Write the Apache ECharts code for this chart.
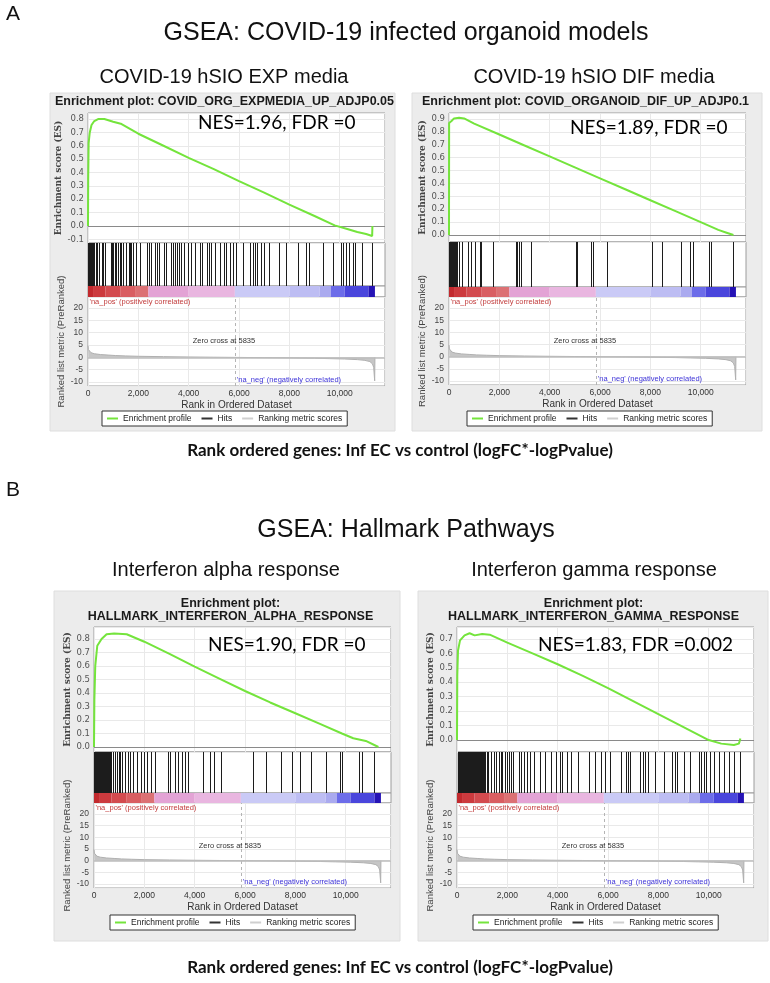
<!DOCTYPE html>
<html>
<head>
<meta charset="utf-8">
<script src="https://cdn.jsdelivr.net/npm/echarts@6/dist/echarts.min.js"></script>
<style>
  html, body { margin: 0; padding: 0; background: #fff; }
  #chart { width: 770px; height: 983px; }
</style>
</head>
<body>
<div id="chart"></div>
<script>
// ---- data ----
const rankMax = 11800;
const zeroCross = 5835;

// running enrichment score, [rank, ES]
const esExpMedia = [[0,0],[8,0.35],[25,0.62],[70,0.70],[140,0.755],[250,0.785],[400,0.80],[650,0.80],[1000,0.78],[1300,0.765],[2000,0.69],[3000,0.60],[4000,0.51],[5000,0.425],[6000,0.335],[7000,0.25],[8000,0.16],[9000,0.075],[9800,0.005],[10300,-0.022],[10700,-0.045],[11050,-0.06],[11290,-0.075],[11300,0.0]];
const esDifMedia = [[0,0],[5,0.87],[100,0.885],[200,0.905],[400,0.91],[600,0.905],[1000,0.865],[2000,0.78],[3000,0.695],[4000,0.61],[5000,0.525],[6000,0.44],[7000,0.355],[8000,0.27],[9000,0.185],[10000,0.10],[10700,0.04],[11000,0.02],[11300,0.0]];
const esAlpha = [[0,0],[15,0.35],[50,0.6],[130,0.75],[300,0.80],[500,0.835],[800,0.84],[1300,0.835],[2000,0.78],[3000,0.69],[4000,0.595],[5000,0.505],[6000,0.415],[7000,0.33],[8000,0.25],[9000,0.17],[9850,0.10],[10300,0.065],[10800,0.045],[11300,0.0]];
const esGamma = [[0,0],[12,0.45],[40,0.62],[120,0.69],[300,0.725],[500,0.74],[700,0.725],[1000,0.735],[1300,0.73],[2000,0.675],[3000,0.60],[4000,0.525],[5000,0.445],[6000,0.36],[7000,0.27],[8000,0.18],[9000,0.09],[10000,0.0],[10500,-0.025],[11000,-0.035],[11200,-0.025],[11260,0.01]];

// gene set hits (rank positions)
const hitsExpMedia = [15,45,80,115,150,185,215,255,300,375,425,545,610,670,905,960,1005,1070,1130,1190,1260,1330,1400,1505,1610,1670,1710,1795,1925,2060,2360,2430,2520,2680,2760,2840,3010,3090,3285,3365,3445,3525,3615,3710,3800,3975,4105,4240,4460,4540,4725,4805,4895,5030,5225,5385,5465,5625,5780,5885,6150,6455,6545,6640,6730,6875,7010,7205,7600,7865,8330,8660,8790,9320,9715,10070,10150,10245,10375,10535,10615,10905,11300];
const hitsDifMedia = [15,45,75,105,135,165,200,230,265,300,385,515,755,885,1045,1215,1285,1760,2645,2710,2780,2845,3240,5040,5095,5640,5715,6270,8055,8450,9205,9565,9685,10315,10400,11290];
const hitsAlpha = [15,40,65,90,115,140,165,190,215,240,270,300,330,360,390,420,450,480,510,540,570,600,630,660,740,830,895,975,1030,1095,1225,1355,1425,1555,1715,1885,1975,2110,2280,2410,2940,3030,3205,3335,3480,3600,3730,4350,4615,4785,5050,6300,6825,7420,7880,8170,8605,9200,9765,9860,10520,10650,11110];
const hitsGamma = [20,45,70,95,120,150,180,210,240,270,300,335,370,405,440,475,510,545,580,620,660,700,740,780,820,860,900,940,985,1030,1080,1130,1180,1215,1346,1451,1542,1673,1738,1804,1895,2000,2065,2157,2235,2457,2549,2653,2784,2915,3045,3281,3503,3725,3934,4091,4157,4353,4510,4549,4823,5255,5490,5725,5882,6078,6510,6706,6784,6863,7255,7373,7451,7569,7882,8235,8549,8667,8745,9020,9255,9608,9686,9804,9882,10039,10196,10400,10600,10800,11000,11250];

// ranked list metric (same pre-ranked list in every panel)
const rankedMetric = [[0,4.8],[15,3.2],[50,2.4],[120,1.9],[250,1.5],[500,1.15],[800,0.95],[1100,0.75],[1500,0.6],[2000,0.45],[3000,0.3],[4000,0.18],[5000,0.08],[5835,0],[7000,-0.1],[8000,-0.2],[9000,-0.35],[9600,-0.5],[10200,-0.65],[10700,-0.9],[11000,-1.2],[11200,-1.7],[11300,-2.6],[11350,-4],[11390,-9.5],[11400,0]];

// heat bar under the hits: [from rank, to rank, metric level]
const colorBands = [[0,200,6],[200,700,5],[700,1300,4],[1300,1900,3],[1900,2400,2],[2400,4000,1],[4000,5835,0.5],[5835,8000,-0.5],[8000,9200,-1],[9200,9650,-2],[9650,10200,-3],[10200,11150,-4],[11150,11400,-5]];

const nesLabels = ['NES=1.96, FDR =0', 'NES=1.89, FDR =0', 'NES=1.90, FDR =0', 'NES=1.83, FDR =0.002'];
const plotTitles = [
  ['Enrichment plot: COVID_ORG_EXPMEDIA_UP_ADJP0.05'],
  ['Enrichment plot: COVID_ORGANOID_DIF_UP_ADJP0.1'],
  ['Enrichment plot:', 'HALLMARK_INTERFERON_ALPHA_RESPONSE'],
  ['Enrichment plot:', 'HALLMARK_INTERFERON_GAMMA_RESPONSE']
];

// ---- layout ----
const bandPalette = {
  '6': '#c22a2e', '5': '#cc3a3e', '4': '#d34b4f', '3': '#d95e62', '2': '#dc7174',
  '1': '#e3a3d5', '0.5': '#e9b6e0',
  '-0.5': '#cacaf6', '-1': '#bdbdf3', '-2': '#aaaaef', '-3': '#6c6ce9', '-4': '#4a46dc', '-5': '#2513b5'
};

const panels = [
  { es: esExpMedia, hits: hitsExpMedia, box: [50, 93, 345, 338], left: 88, esTop: 113, esH: 130, hitsH: 43, barH: 11, rankH: 89,
    esRange: [-0.127, 0.845], rankRange: [-11.6, 24.5], titleY: 102, nesAt: [198, 123], legendAt: [102, 411], esGap: 16, rankGap: 18 },
  { es: esDifMedia, hits: hitsDifMedia, box: [412, 93, 350, 338], left: 449, esTop: 113, esH: 129, hitsH: 45, barH: 10, rankH: 88,
    esRange: [-0.054, 0.947], rankRange: [-11.6, 24.5], titleY: 102, nesAt: [570, 128], legendAt: [467, 411], esGap: 20, rankGap: 18 },
  { es: esAlpha, hits: hitsAlpha, box: [54, 591, 346, 350], left: 94, esTop: 627, esH: 125, hitsH: 41, barH: 10, rankH: 85,
    esRange: [-0.037, 0.889], rankRange: [-11.7, 24.7], titleY: 604, nesAt: [208, 645], legendAt: [110, 915], esGap: 20, rankGap: 17 },
  { es: esGamma, hits: hitsGamma, box: [418, 591, 350, 350], left: 457, esTop: 627, esH: 125, hitsH: 41, barH: 10, rankH: 85,
    esRange: [-0.083, 0.783], rankRange: [-11.7, 24.7], titleY: 604, nesAt: [538, 645], legendAt: [473, 915], esGap: 20, rankGap: 18 }
];
const plotW = 297;

function commas(v) { return String(v).replace(/\B(?=(\d{3})+(?!\d))/g, ','); }

const grids = [], xAxes = [], yAxes = [], series = [], legends = [];
const gridBase = { show: true, backgroundColor: '#fff', borderColor: '#9c9c9c', borderWidth: 1, outerBoundsMode: 'none' };

panels.forEach((p, i) => {
  const g = i * 4;
  const hitsTop = p.esTop + p.esH, barTop = hitsTop + p.hitsH, rankTop = barTop + p.barH;
  grids.push(Object.assign({ left: p.left, top: p.esTop, width: plotW, height: p.esH }, gridBase));
  grids.push(Object.assign({ left: p.left, top: hitsTop, width: plotW, height: p.hitsH }, gridBase));
  grids.push(Object.assign({ left: p.left, top: barTop, width: plotW, height: p.barH }, gridBase));
  grids.push(Object.assign({ left: p.left, top: rankTop, width: plotW, height: p.rankH }, gridBase));

  for (let k = 0; k < 4; k++) {
    xAxes.push({
      type: 'value', gridIndex: g + k, min: 0, max: rankMax, interval: 2000,
      axisLine: { show: false }, axisTick: { show: false },
      axisLabel: k === 3 ? {
        show: true, fontSize: 8.5, color: '#333', margin: 3,
        formatter: v => (v % 2000 === 0 ? commas(v) : '')
      } : { show: false },
      splitLine: { show: k === 0 || k === 3, lineStyle: { color: '#e9e9e9', width: 1 } },
      name: k === 3 ? 'Rank in Ordered Dataset' : '',
      nameLocation: 'middle', nameGap: 14,
      nameTextStyle: { fontSize: 10, color: '#333', fontFamily: 'Liberation Sans' }
    });
  }
  yAxes.push({
    type: 'value', gridIndex: g, min: p.esRange[0], max: p.esRange[1], splitNumber: 10,
    axisLine: { show: false }, axisTick: { show: false },
    axisLabel: {
      fontSize: 8.5, color: '#555', margin: 4, fontFamily: 'DejaVu Sans',
      formatter: v => (Math.abs(v * 10 - Math.round(v * 10)) < 1e-6 ? (Math.abs(v) < 1e-9 ? '0.0' : v.toFixed(1)) : '')
    },
    splitLine: { lineStyle: { color: '#e9e9e9' } },
    name: 'Enrichment score (ES)', nameLocation: 'middle', nameGap: p.esGap,
    nameTextStyle: { fontFamily: 'DejaVu Serif', fontWeight: 'bold', fontSize: 9, color: '#444' }
  });
  yAxes.push({ type: 'value', gridIndex: g + 1, min: 0, max: 1, show: false });
  yAxes.push({ type: 'value', gridIndex: g + 2, min: 0, max: 1, show: false });
  yAxes.push({
    type: 'value', gridIndex: g + 3, min: p.rankRange[0], max: p.rankRange[1], splitNumber: 7,
    axisLine: { show: false }, axisTick: { show: false },
    axisLabel: {
      fontSize: 8.5, color: '#444', margin: 5,
      formatter: v => (Math.abs(v - Math.round(v)) < 1e-6 && Math.round(v) % 5 === 0 ? String(Math.round(v)) : '')
    },
    splitLine: { lineStyle: { color: '#e9e9e9' } },
    name: 'Ranked list metric (PreRanked)', nameLocation: 'middle', nameGap: p.rankGap,
    nameTextStyle: { fontSize: 9.5, color: '#444', fontFamily: 'Liberation Sans' }
  });

  series.push({
    type: 'line', name: 'Enrichment profile', xAxisIndex: g, yAxisIndex: g,
    data: p.es, symbol: 'none', clip: false, z: 5,
    lineStyle: { color: '#74e43c', width: 2 },
    markLine: {
      silent: true, symbol: 'none', label: { show: false },
      lineStyle: { color: '#8a8a8a', type: 'solid', width: 1 },
      data: [{ yAxis: 0 }]
    }
  });
  series.push({
    type: 'custom', name: 'Hits', xAxisIndex: g + 1, yAxisIndex: g + 1, silent: true,
    itemStyle: { color: '#222' },
    data: p.hits.map(r => [r, 0.5]),
    renderItem: (params, api) => {
      const cs = params.coordSys;
      const x = Math.round(api.coord([api.value(0), 0.5])[0]) + 0.5;
      return { type: 'line', shape: { x1: x, y1: cs.y, x2: x, y2: cs.y + cs.height },
               style: { stroke: '#1c1c1c', lineWidth: 1 } };
    }
  });
  series.push({
    type: 'custom', name: 'band', xAxisIndex: g + 2, yAxisIndex: g + 2, silent: true,
    encode: { x: [0, 1] },
    data: colorBands,
    renderItem: (params, api) => {
      const a = api.coord([api.value(0), 0]);
      const b = api.coord([api.value(1), 1]);
      return { type: 'rect', shape: { x: a[0], y: b[1], width: b[0] - a[0], height: a[1] - b[1] },
               style: { fill: bandPalette[String(api.value(2))] } };
    }
  });
  series.push({
    type: 'line', name: 'Ranking metric scores', xAxisIndex: g + 3, yAxisIndex: g + 3,
    data: rankedMetric, symbol: 'none',
    lineStyle: { color: '#b0b0b0', width: 1 },
    areaStyle: { color: '#c6c6c6', opacity: 1 },
    markLine: {
      silent: true, symbol: 'none', label: { show: false },
      data: [
        { xAxis: zeroCross, lineStyle: { type: [3, 3], color: '#b4b4b4', width: 1 } },
        { yAxis: 0, lineStyle: { type: 'solid', color: '#bcbcbc', width: 1.5 } }
      ]
    }
  });

  legends.push({
    left: p.legendAt[0], top: p.legendAt[1], orient: 'horizontal',
    backgroundColor: '#fff', borderColor: '#333', borderWidth: 1, borderRadius: 0,
    padding: [3, 5], itemGap: 10, itemWidth: 11, itemHeight: 2, icon: 'rect',
    selectedMode: false,
    textStyle: { fontSize: 8.5, color: '#222', fontFamily: 'Liberation Sans' },
    data: [
      { name: 'Enrichment profile', itemStyle: { color: '#74e43c' } },
      { name: 'Hits', itemStyle: { color: '#333' } },
      { name: 'Ranking metric scores', itemStyle: { color: '#cfcfcf' } }
    ]
  });
});

const chart = echarts.init(document.getElementById('chart'));
chart.setOption({
  animation: false,
  backgroundColor: '#fff',
  textStyle: { fontFamily: 'Liberation Sans' },
  grid: grids, xAxis: xAxes, yAxis: yAxes, series: series, legend: legends
});

// ---- text and panel backgrounds ----
function txt(x, y, text, font, extra) {
  return Object.assign({ type: 'text', x: x, y: y, z: 100,
    style: Object.assign({ text: text, font: font, fill: '#111', textAlign: 'center', textVerticalAlign: 'middle' }, extra || {}) });
}

const els = [];
panels.forEach((p, i) => {
  const b = p.box;
  els.push({ type: 'rect', z: -100, shape: { x: b[0], y: b[1], width: b[2], height: b[3] },
             style: { fill: '#ececec', stroke: '#dedede', lineWidth: 1 } });
  const cx = p.left + plotW / 2 - 12;
  plotTitles[i].forEach((t, j) => {
    els.push(txt(cx, p.titleY + j * 13, t, 'bold 12.5px "Liberation Sans"', { fill: '#1a1a1a' }));
  });
  els.push(txt(p.nesAt[0], p.nesAt[1], nesLabels[i], '19px Lato', { textAlign: 'left', fill: '#000' }));

  const gRank = i * 4 + 3;
  const zc = chart.convertToPixel({ gridIndex: gRank }, [5400, 6.5]);
  els.push(txt(zc[0], zc[1], 'Zero cross at ' + zeroCross, '7.5px "Liberation Sans"', { fill: '#333' }));
  const pos = chart.convertToPixel({ gridIndex: gRank }, [60, p.rankRange[1]]);
  els.push(txt(pos[0], pos[1] + 5, "'na_pos' (positively correlated)", '7.5px "Liberation Sans"', { textAlign: 'left', fill: '#c23c3c' }));
  const neg = chart.convertToPixel({ gridIndex: gRank }, [zeroCross + 80, -9]);
  els.push(txt(neg[0], neg[1], "'na_neg' (negatively correlated)", '7.5px "Liberation Sans"', { textAlign: 'left', fill: '#3d33d8' }));
});

els.push(txt(6, 14, 'A', '21px "Liberation Sans"', { textAlign: 'left' }));
els.push(txt(406, 33, 'GSEA: COVID-19 infected organoid models', '25px "Liberation Sans"'));
els.push(txt(224, 77, 'COVID-19 hSIO EXP media', '20px "Liberation Sans"'));
els.push(txt(594, 77, 'COVID-19 hSIO DIF media', '20px "Liberation Sans"'));
els.push(txt(400, 451, 'Rank ordered genes: Inf EC vs control (logFC*-logPvalue)', 'bold 17px Lato'));
els.push(txt(6, 490, 'B', '21px "Liberation Sans"', { textAlign: 'left' }));
els.push(txt(406, 530, 'GSEA: Hallmark Pathways', '25px "Liberation Sans"'));
els.push(txt(226, 570, 'Interferon alpha response', '20px "Liberation Sans"'));
els.push(txt(594, 570, 'Interferon gamma response', '20px "Liberation Sans"'));
els.push(txt(400, 968, 'Rank ordered genes: Inf EC vs control (logFC*-logPvalue)', 'bold 17px Lato'));

chart.setOption({ graphic: { elements: els } });
</script>
</body>
</html>
